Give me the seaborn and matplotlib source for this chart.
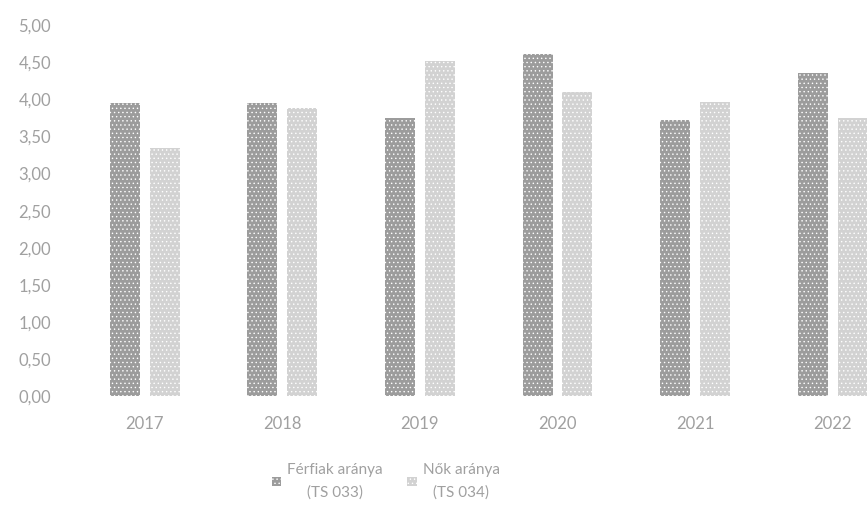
import numpy as np
import pandas as pd
import matplotlib
matplotlib.use("Agg")
import matplotlib.pyplot as plt
from matplotlib.ticker import FuncFormatter
import seaborn as sns

# years and the two series (ratios)
years = ['2017', '2018', '2019', '2020', '2021', '2022']
ferfiak = [3.95, 3.95, 3.75, 4.61, 3.72, 4.35]
nok = [3.34, 3.88, 4.52, 4.10, 3.96, 3.75]
series_names = ['Férfiak aránya\n(TS 033)', 'Nők aránya\n(TS 034)']

df = pd.DataFrame({
    'ev': years * 2,
    'ertek': ferfiak + nok,
    'sorozat': [series_names[0]] * len(years) + [series_names[1]] * len(years),
})

sns.set_style('white')
plt.rcParams['font.family'] = ['Lato', 'DejaVu Sans']
plt.rcParams['hatch.linewidth'] = 0.5
plt.rcParams['hatch.color'] = '#f2f2f2'

fig = plt.figure(figsize=(8.67, 5.22), dpi=100)
ax = fig.add_axes([0.0877, 0.241, 0.9123, 0.711])

palette = {series_names[0]: '#9c9c9c', series_names[1]: '#d2d2d2'}
sns.barplot(data=df, x='ev', y='ertek', hue='sorozat', palette=palette,
            width=0.58, gap=0.25, ax=ax, legend=True)

for p in ax.patches:
    p.set_hatch('....')
    p.set_linewidth(0)

ax.set_ylim(0, 5)
ax.set_xlim(-0.5, 5.25)
ax.set_yticks(np.arange(0, 5.01, 0.5))
ax.yaxis.set_major_formatter(FuncFormatter(lambda v, _: f'{v:.2f}'.replace('.', ',')))
ax.set_xlabel('')
ax.set_ylabel('')
for s in ax.spines.values():
    s.set_visible(False)
ax.tick_params(axis='both', length=0, labelsize=12, labelcolor='#a0a0a0')
ax.tick_params(axis='y', pad=18)
ax.tick_params(axis='x', pad=14)

handles, labels = ax.get_legend_handles_labels()
ax.legend_.remove()
leg = fig.legend(handles, labels, loc='center', bbox_to_anchor=(0.445, 0.078),
                 ncol=2, frameon=False, fontsize=11, handlelength=0.6,
                 handleheight=0.6, handletextpad=0.4, columnspacing=1.6)
for t in leg.get_texts():
    t.set_color('#a0a0a0')
    t.set_multialignment('center')
    t.set_linespacing(1.8)

fig.savefig('out.png', dpi=100)
